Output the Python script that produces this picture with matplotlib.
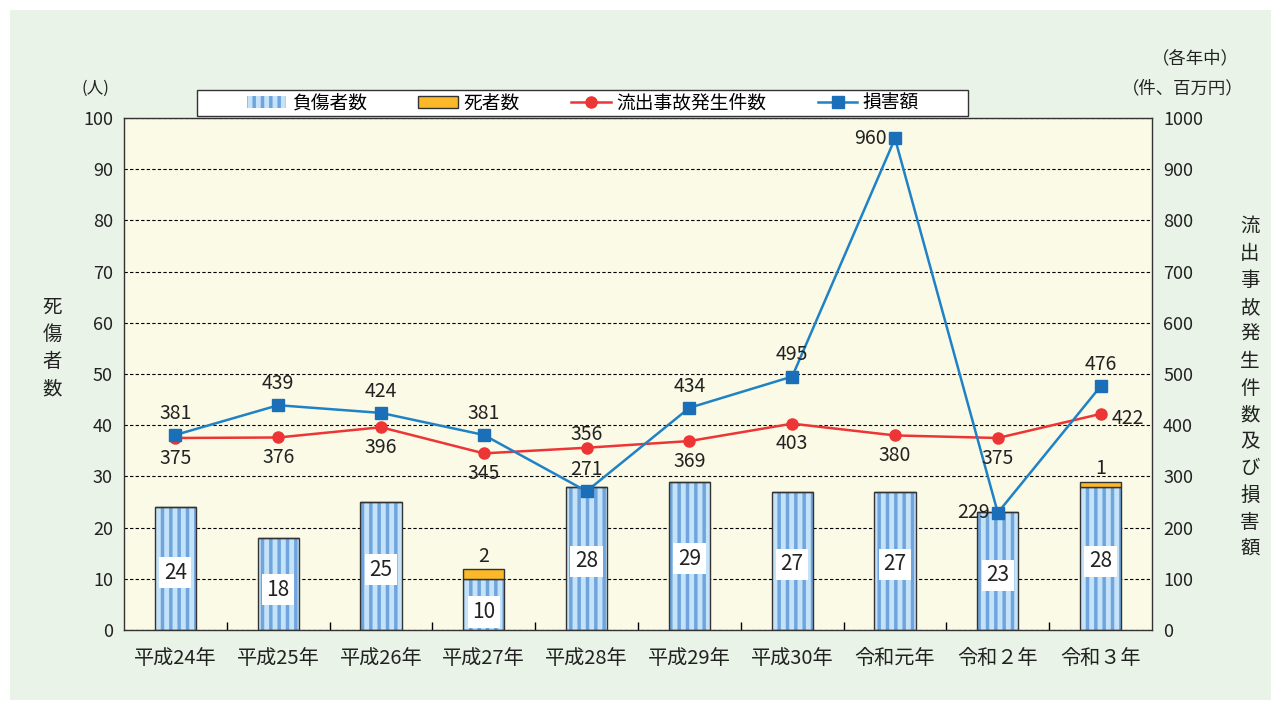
import matplotlib.pyplot as plt
import matplotlib as mpl
from matplotlib.patches import Patch, Rectangle
from matplotlib.lines import Line2D
import numpy as np

plt.rcParams['font.family'] = ['Noto Sans CJK JP', 'DejaVu Sans']
mpl.rcParams['hatch.linewidth'] = 2.5

years = ["平成24年", "平成25年", "平成26年", "平成27年", "平成28年",
         "平成29年", "平成30年", "令和元年", "令和２年", "令和３年"]
injured = [24, 18, 25, 10, 28, 29, 27, 27, 23, 28]
deaths = [0, 0, 0, 2, 0, 0, 0, 0, 0, 1]
accidents = [375, 376, 396, 345, 356, 369, 403, 380, 375, 422]
damage = [381, 439, 424, 381, 271, 434, 495, 960, 229, 476]

# label placement for the line series
acc_pos = ["below", "below", "below", "below", "above", "below", "below", "below", "below", "right"]
dmg_pos = ["above", "above", "above", "above", "above", "above", "above", "left", "left", "above"]

bg = "#e9f3e7"
fig = plt.figure(figsize=(12.81, 7.06), dpi=100, facecolor="white")
fig.patches.append(Rectangle((0.008, 0.008), 0.984, 0.978, transform=fig.transFigure,
                             facecolor=bg, edgecolor="none", zorder=-10))
ax = fig.add_axes([124 / 1281, 1 - 630 / 706, (1152 - 124) / 1281, (630 - 118) / 706])
ax.set_facecolor("#fafae6")

x = np.arange(len(years))
bw = 0.4
ax.bar(x, injured, bw, facecolor="#c4e2f8", edgecolor="#6fa5dc", hatch="||", linewidth=0, zorder=2)
ax.bar(x, injured, bw, facecolor="none", edgecolor="#333333", linewidth=1, zorder=3)
ax.bar(x, deaths, bw, bottom=injured, facecolor="#fbb829", edgecolor="#333333", linewidth=1, zorder=3)

for i, v in enumerate(injured):
    ax.text(x[i], v * 0.55 - 2, str(v), ha="center", va="center", fontsize=15, color="#222222",
            zorder=4, bbox=dict(boxstyle="square,pad=0.22", facecolor="white", edgecolor="none"))
for i, d in enumerate(deaths):
    if d > 0:
        ax.text(x[i], injured[i] + d + 0.4, str(d), ha="center", va="bottom", fontsize=14, color="#222222")

ax.set_ylim(0, 100)
ax.set_xlim(-0.5, len(years) - 0.5)
ax.set_yticks(range(0, 101, 10))
ax.tick_params(axis="y", labelsize=13, length=0, pad=8, colors="#222222")
ax.set_xticks(x)
ax.set_xticklabels(years, fontsize=14.5, color="#222222")
ax.tick_params(axis="x", length=0, pad=13)
ax.set_xticks(np.arange(0.5, len(years) - 0.5, 1), minor=True)
ax.tick_params(axis="x", which="minor", direction="in", length=6, width=1, color="black")
ax.yaxis.grid(True, linestyle=(0, (3, 2)), color="black", linewidth=0.8, zorder=1)
ax.set_axisbelow(True)
for s in ax.spines.values():
    s.set_color("#333333")
    s.set_linewidth(1)

ax2 = ax.twinx()
ax2.set_ylim(0, 1000)
ax2.set_yticks(range(0, 1001, 100))
ax2.tick_params(axis="y", labelsize=13, length=0, pad=8, colors="#222222")
for s in ax2.spines.values():
    s.set_visible(False)

ax2.plot(x, accidents, color="#ee3535", marker="o", markersize=8, linewidth=1.8, zorder=5)
ax2.plot(x, damage, color="#1f82c6", marker="s", markersize=8, linewidth=1.8,
         markerfacecolor="#1a6fb8", markeredgecolor="#1a6fb8", zorder=6)

acc_off = {"below": (0, -7, "center", "top"), "above": (0, 2, "center", "bottom"),
           "right": (8, -3, "left", "center")}
dmg_off = {"above": (0, 8, "center", "bottom"), "left": (-6, 0, "right", "center")}
for i, v in enumerate(accidents):
    dx, dy, ha, va = acc_off[acc_pos[i]]
    ax2.annotate(str(v), (x[i], v), xytext=(dx, dy), textcoords="offset points",
                 ha=ha, va=va, fontsize=14, color="#222222", zorder=7)
for i, v in enumerate(damage):
    dx, dy, ha, va = dmg_off[dmg_pos[i]]
    ax2.annotate(str(v), (x[i], v), xytext=(dx, dy), textcoords="offset points",
                 ha=ha, va=va, fontsize=14, color="#222222", zorder=7)

# axis titles, stacked vertically
fig.text(52 / 1281, 1 - 348 / 706, "\n".join("死傷者数"), ha="center", va="center",
         fontsize=14, linespacing=1.4, color="#222222")
fig.text(1250 / 1281, 1 - 388 / 706, "\n".join("流出事故発生件数及び損害額"), ha="center", va="center",
         fontsize=14, linespacing=1.37, color="#222222")
fig.text(95 / 1281, 1 - 88 / 706, "(人)", ha="center", va="center", fontsize=12, color="#222222")
fig.text(1195 / 1281, 1 - 58 / 706, "（各年中）", ha="center", va="center", fontsize=12.5, color="#222222")
fig.text(1183 / 1281, 1 - 88 / 706, "（件、百万円）", ha="center", va="center", fontsize=12.5, color="#222222")

# legend box
fig.patches.append(Rectangle((197 / 1281, 1 - 116 / 706), (968 - 197) / 1281, 26 / 706,
                             transform=fig.transFigure, facecolor="white", edgecolor="#333333",
                             linewidth=1, zorder=1))
handles = [
    Patch(facecolor="#c4e2f8", edgecolor="#6fa5dc", hatch="||", linewidth=0),
    Patch(facecolor="#fbb829", edgecolor="#333333", linewidth=1),
    Line2D([], [], color="#ee3535", marker="o", markersize=8, linewidth=1.8),
    Line2D([], [], color="#1f82c6", marker="s", markersize=8, linewidth=1.8,
           markerfacecolor="#1a6fb8", markeredgecolor="#1a6fb8"),
]
labels = ["負傷者数", "死者数", "流出事故発生件数", "損害額"]
leg = fig.legend(handles, labels, loc="center", bbox_to_anchor=(583 / 1281, 1 - 103 / 706),
                 ncol=4, fontsize=13.5, frameon=False, handlelength=2.1, handleheight=0.6,
                 handletextpad=0.3, columnspacing=2.75, borderpad=0.1)
leg.set_zorder(2)

fig.savefig("out.png", dpi=100, facecolor=fig.get_facecolor())
